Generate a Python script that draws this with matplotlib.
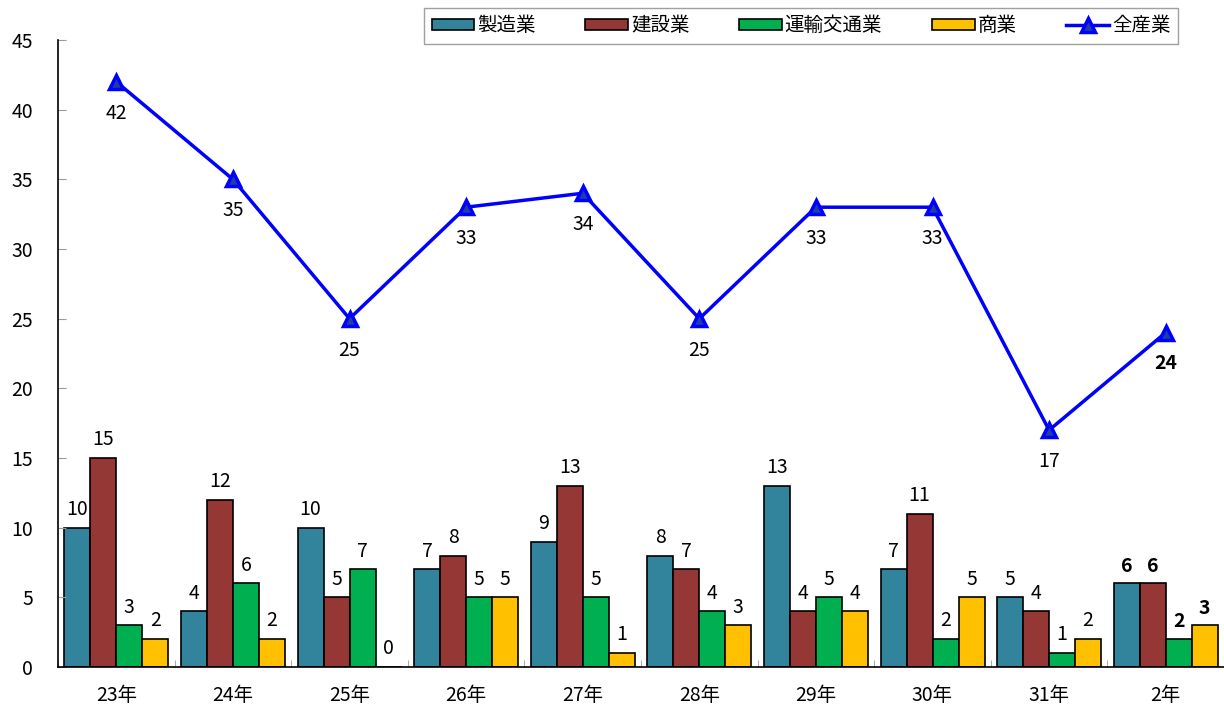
import matplotlib.pyplot as plt
import numpy as np

plt.rcParams['font.family'] = ['Noto Sans CJK JP', 'DejaVu Sans']

# data
years = ['23年', '24年', '25年', '26年', '27年', '28年', '29年', '30年', '31年', '2年']
seizo = [10, 4, 10, 7, 9, 8, 13, 7, 5, 6]
kensetsu = [15, 12, 5, 8, 13, 7, 4, 11, 4, 6]
unyu = [3, 6, 7, 5, 5, 4, 5, 2, 1, 2]
shogyo = [2, 2, 0, 5, 1, 3, 4, 5, 2, 3]
zensangyo = [42, 35, 25, 33, 34, 25, 33, 33, 17, 24]

series = [
    ('製造業', seizo, '#31849B'),
    ('建設業', kensetsu, '#953735'),
    ('運輸交通業', unyu, '#00B050'),
    ('商業', shogyo, '#FFC000'),
]

fig = plt.figure(figsize=(12.24, 7.09), dpi=100)
ax = fig.add_axes([0.0474, 0.0592, 0.9526, 0.8844])

x = np.arange(len(years))
w = 0.223
offsets = [-1.5, -0.5, 0.5, 1.5]
last = len(years) - 1

handles = []
for (name, vals, col), off in zip(series, offsets):
    bars = ax.bar(x + off * w, vals, w, color=col, edgecolor='black', linewidth=1.2, label=name)
    handles.append(bars)
    for i, v in enumerate(vals):
        ax.text(x[i] + off * w, v + 0.55, str(v), ha='center', va='bottom', fontsize=14,
                fontweight='bold' if i == last else 'normal')

line, = ax.plot(x, zensangyo, color='#0000FF', linewidth=2.5, marker='^', markersize=10,
                markerfacecolor='#1F3F9F', markeredgecolor='#0000FF', markeredgewidth=2.5,
                label='全産業')
handles.append(line)
for i, v in enumerate(zensangyo):
    ax.text(x[i], v - 1.5, str(v), ha='center', va='top', fontsize=14,
            fontweight='bold' if i == last else 'normal')

ax.set_xlim(-0.5, len(years) - 0.5)
ax.set_ylim(0, 45)
ax.set_yticks(range(0, 46, 5))
ax.set_xticks(x)
ax.set_xticklabels(years, fontsize=14)
ax.tick_params(axis='y', labelsize=14, direction='in', length=6, color='#999999', pad=18)
ax.tick_params(axis='x', length=0, pad=13)
ax.set_xticks(np.arange(-0.5, len(years), 1), minor=True)
ax.tick_params(axis='x', which='minor', direction='in', length=5, color='#999999')

ax.spines['top'].set_visible(False)
ax.spines['right'].set_visible(False)
ax.spines['left'].set_linewidth(1.2)
ax.spines['bottom'].set_linewidth(1.2)

leg = ax.legend(handles=handles, labels=[h.get_label() for h in handles],
                loc='upper left', bbox_to_anchor=(0.314, 1.051), ncol=5, fontsize=14,
                frameon=True, fancybox=False, edgecolor='#888888', handlelength=2.2,
                handleheight=0.5, columnspacing=2.55, handletextpad=0.15, borderpad=0.38,
                borderaxespad=0)
leg.get_frame().set_linewidth(1.0)

fig.savefig('out.png', dpi=100)
